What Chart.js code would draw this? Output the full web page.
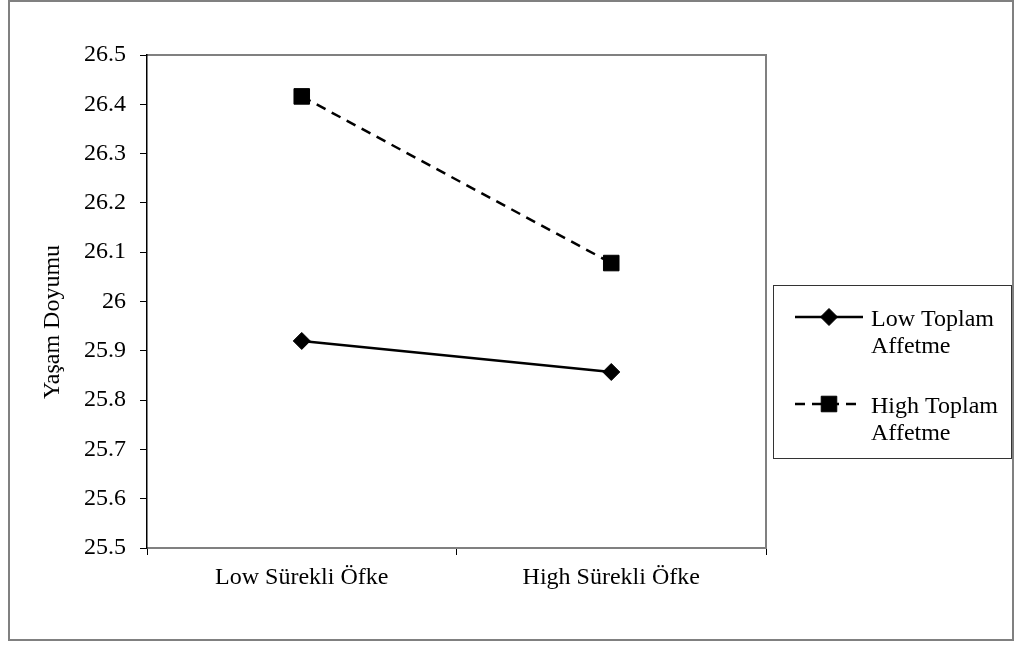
<!DOCTYPE html>
<html>
<head>
<meta charset="utf-8">
<script src="https://cdn.jsdelivr.net/npm/chart.js@4.4.1/dist/chart.umd.min.js"></script>
<style>
  html, body { margin: 0; padding: 0; background: #fff; }
  #wrap { width: 1016px; height: 646px; position: relative; }
</style>
</head>
<body>
<div id="wrap"><canvas id="canvas" width="1016" height="646"></canvas></div>
<script>
// data
const categories = ['Low Sürekli Öfke', 'High Sürekli Öfke'];
const lowToplam = [25.92, 25.857];
const highToplam = [26.416, 26.078];
const seriesNames = [['Low Toplam', 'Affetme'], ['High Toplam', 'Affetme']];
const yMin = 25.5, yMax = 26.5, yStep = 0.1;
const yTitle = 'Yaşam Doyumu';

const FONT = "'Liberation Serif', 'Times New Roman', serif";

// outer frame, grey plot border, axis title and the boxed legend on the right
const framePlugin = {
  id: 'frame',
  beforeDraw(chart) {
    const ctx = chart.ctx, a = chart.chartArea;
    ctx.save();
    ctx.fillStyle = '#fff';
    ctx.fillRect(0, 0, chart.width, chart.height);
    ctx.strokeStyle = '#808080';
    ctx.lineWidth = 2;
    ctx.strokeRect(9, 1, 1004, 639);
    ctx.beginPath();
    ctx.moveTo(a.left, a.top);
    ctx.lineTo(a.right, a.top);
    ctx.lineTo(a.right, a.bottom);
    ctx.stroke();
    ctx.restore();
  },
  afterDraw(chart) {
    const ctx = chart.ctx;
    ctx.save();
    // y axis title, sits a little below the plot's middle like in the original
    ctx.font = '24px ' + FONT;
    ctx.fillStyle = '#000';
    ctx.textAlign = 'center';
    ctx.textBaseline = 'middle';
    ctx.translate(53, 322);
    ctx.rotate(-Math.PI / 2);
    ctx.fillText(yTitle, 0, 0);
    ctx.restore();

    const box = { x: 773.5, y: 285.5, w: 238, h: 173 };
    ctx.save();
    ctx.strokeStyle = '#333';
    ctx.lineWidth = 1;
    ctx.strokeRect(box.x, box.y, box.w, box.h);
    ctx.font = '24px ' + FONT;
    ctx.fillStyle = '#000';
    ctx.textBaseline = 'middle';
    const rows = [317, 404];
    chart.data.datasets.forEach((ds, i) => {
      const y = rows[i];
      ctx.save();
      ctx.strokeStyle = ds.borderColor;
      ctx.lineWidth = ds.borderWidth;
      ctx.setLineDash(ds.borderDash || []);
      ctx.beginPath();
      ctx.moveTo(795, y);
      ctx.lineTo(863, y);
      ctx.stroke();
      ctx.restore();
      ctx.fillStyle = ds.pointBackgroundColor;
      ctx.strokeStyle = ds.pointBackgroundColor;
      ctx.lineWidth = 1;
      Chart.helpers.drawPoint(ctx, { pointStyle: ds.pointStyle, radius: ds.pointRadius, borderWidth: 1 }, 829, y);
      ctx.fillStyle = '#000';
      seriesNames[i].forEach((t, k) => ctx.fillText(t, 871, y + 3 + k * 27));
    });
    ctx.restore();
  }
};

new Chart(document.getElementById('canvas').getContext('2d'), {
  type: 'line',
  data: {
    labels: categories,
    datasets: [
      {
        label: seriesNames[0].join(' '),
        data: lowToplam,
        borderColor: '#000',
        borderWidth: 2.5,
        pointStyle: 'rectRot',
        pointRadius: 8.5,
        pointBackgroundColor: '#000',
        pointBorderColor: '#000',
        pointBorderWidth: 1,
        tension: 0
      },
      {
        label: seriesNames[1].join(' '),
        data: highToplam,
        borderColor: '#000',
        borderWidth: 2.5,
        borderDash: [10, 7],
        pointStyle: 'rect',
        pointRadius: 11,
        pointBackgroundColor: '#000',
        pointBorderColor: '#000',
        pointBorderWidth: 1,
        tension: 0
      }
    ]
  },
  options: {
    responsive: false,
    animation: false,
    layout: { padding: { left: 0, top: 55, right: 250, bottom: 0 } },
    plugins: {
      legend: { display: false },
      tooltip: { enabled: false }
    },
    scales: {
      x: {
        offset: true,
        grid: { offset: true, drawOnChartArea: false, drawTicks: true, tickLength: 7, color: '#000' },
        border: { color: '#808080', width: 2 },
        ticks: { color: '#000', padding: 8, font: { family: FONT, size: 24 }, maxRotation: 0 },
        afterFit(scale) { scale.height = 98; }
      },
      y: {
        min: yMin,
        max: yMax,
        grid: { drawOnChartArea: false, drawTicks: true, tickLength: 7, color: '#000' },
        border: { color: '#000', width: 1.5 },
        ticks: {
          stepSize: yStep,
          color: '#000',
          padding: 14,
          font: { family: FONT, size: 24 },
          callback: v => String(Math.round(v * 10) / 10)
        },
        afterFit(scale) { scale.width = 147; }
      }
    }
  },
  plugins: [framePlugin]
});
</script>
</body>
</html>
